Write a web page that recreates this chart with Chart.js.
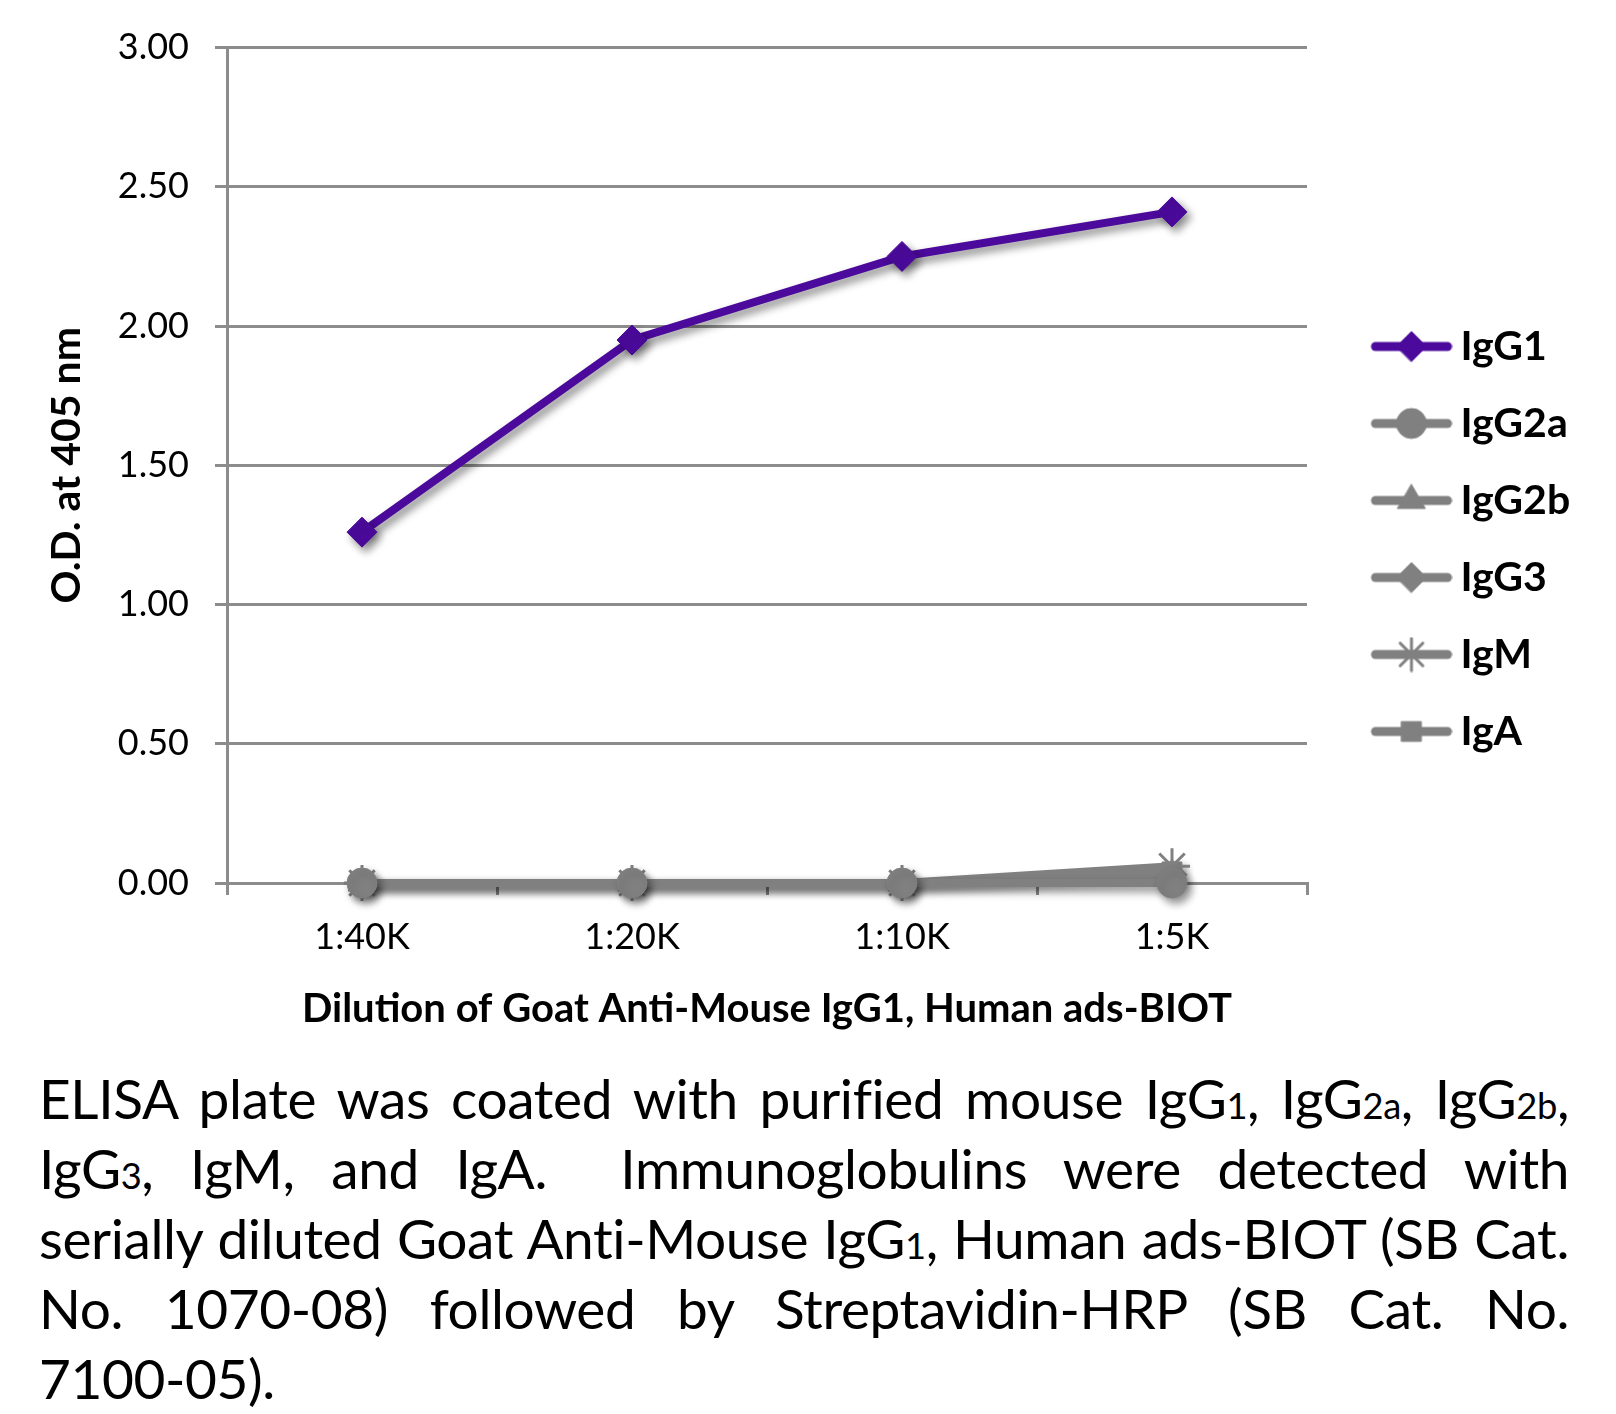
<!DOCTYPE html>
<html>
<head>
<meta charset="utf-8">
<script src="https://cdn.jsdelivr.net/npm/chart.js@4.4.0/dist/chart.umd.min.js"></script>
<style>
  html, body { margin: 0; padding: 0; background: #fff; }
  #wrap { position: absolute; left: 0; top: 0; width: 1616px; height: 1040px; }
  #caption {
    position: absolute; left: 39px; top: 1063px; width: 1530px;
    font-family: Lato, sans-serif; font-size: 55px; line-height: 70px; color: #000;
    letter-spacing: -0.4px;
  }
  #caption .ln { height: 70px; text-align: justify; text-align-last: justify; white-space: nowrap; }
  #caption .ln.last { text-align-last: left; }
  #caption .s { font-size: 0.66em; line-height: 0; }
</style>
</head>
<body>
<div id="wrap"><canvas id="chart"></canvas></div>
<div id="caption">
  <div class="ln">ELISA plate was coated with purified mouse IgG<span class="s">1</span>, IgG<span class="s">2a</span>, IgG<span class="s">2b</span>,</div>
  <div class="ln">IgG<span class="s">3</span>, IgM, and IgA.&nbsp; Immunoglobulins were detected with</div>
  <div class="ln">serially diluted Goat Anti-Mouse IgG<span class="s">1</span>, Human ads-BIOT (SB Cat.</div>
  <div class="ln">No. 1070-08) followed by Streptavidin-HRP (SB Cat. No.</div>
  <div class="ln last">7100-05).</div>
</div>
<script>
const categories = ["1:40K", "1:20K", "1:10K", "1:5K"];
const seriesNames = ["IgG1", "IgG2a", "IgG2b", "IgG3", "IgM", "IgA"];
const igg1 = [1.26, 1.95, 2.25, 2.41];
const igg2a = [0.00, 0.00, 0.00, 0.00];
const igg2b = [0.00, 0.00, 0.00, 0.02];
const igg3 = [0.00, 0.00, 0.00, 0.03];
const igm = [0.00, 0.00, 0.00, 0.06];
const iga = [0.00, 0.00, 0.00, 0.04];
const yTicks = [0, 0.5, 1, 1.5, 2, 2.5, 3];

const purple = "#4B0A9B";
const gray = "#808080";
const axisGray = "#8C8C8C";
const font = "Lato, sans-serif";

const styles = [
    { color: purple, point: "rectRot", radius: 15, order: -2, shadow: true },
    { color: gray, point: "circle", radius: 15, order: -1, shadow: true },
    { color: gray, point: "triangle", radius: 16, order: 0, shadow: false },
    { color: gray, point: "rectRot", radius: 15, order: 0, shadow: false },
    { color: gray, point: "star", radius: 18, order: 0, shadow: false },
    { color: gray, point: "rect", radius: 14, order: 0, shadow: true },
];
const values = [igg1, igg2a, igg2b, igg3, igm, iga];

// legend icon: line with the marker on it
function legendIcon(st) {
    const c = document.createElement("canvas");
    c.width = 122;
    c.height = 36;
    const ctx = c.getContext("2d");
    ctx.strokeStyle = st.color;
    ctx.fillStyle = st.color;
    ctx.lineWidth = 9;
    ctx.lineCap = "round";
    ctx.beginPath();
    ctx.moveTo(45, 18);
    ctx.lineTo(117, 18);
    ctx.stroke();
    ctx.lineWidth = st.point === "star" ? 3 : 1;
    const r = st.point === "star" ? 16 : st.radius;
    Chart.helpers.drawPoint(ctx, { pointStyle: st.point, radius: r, borderWidth: ctx.lineWidth }, 81, 18);
    return c;
}

const shadow = {
    id: "shadow",
    beforeDatasetDraw(chart, args) {
        const ctx = chart.ctx;
        ctx.save();
        if (!styles[args.index].shadow) return;
        ctx.shadowColor = "rgba(0,0,0,0.45)";
        ctx.shadowBlur = 8;
        ctx.shadowOffsetX = 4;
        ctx.shadowOffsetY = 5;
    },
    afterDatasetDraw(chart) {
        chart.ctx.restore();
    }
};

const datasets = seriesNames.map((name, i) => ({
    label: name,
    data: values[i],
    borderColor: styles[i].color,
    backgroundColor: styles[i].color,
    borderWidth: 8,
    pointStyle: styles[i].point,
    pointRadius: styles[i].radius,
    pointBorderWidth: styles[i].point === "star" ? 3 : 1,
    pointBorderColor: styles[i].color,
    pointBackgroundColor: styles[i].color,
    order: styles[i].order,
    clip: false,
    tension: 0,
}));

const chart = new Chart(document.getElementById("chart"), {
    type: "line",
    plugins: [shadow],
    data: { labels: categories, datasets: datasets },
    options: {
        responsive: true,
        maintainAspectRatio: false,
        animation: false,
        layout: { padding: { top: 46, left: 0, right: 49, bottom: 8 } },
        plugins: {
            tooltip: { enabled: false },
            legend: {
                position: "right",
                labels: {
                    usePointStyle: true,
                    pointStyleWidth: 97,
                    padding: 36,
                    color: "#000",
                    font: { family: font, size: 41, weight: "bold" },
                    sort: (a, b) => a.datasetIndex - b.datasetIndex,
                    generateLabels: (ch) => Chart.defaults.plugins.legend.labels.generateLabels(ch).map((l) => {
                        l.pointStyle = legendIcon(styles[l.datasetIndex]);
                        return l;
                    }),
                },
            },
        },
        scales: {
            x: {
                type: "category",
                offset: true,
                afterFit: (s) => { s.height = 149; },
                grid: { offset: true, drawOnChartArea: false, drawTicks: true, tickLength: 12, color: axisGray, lineWidth: 3 },
                border: { display: true, color: axisGray, width: 3 },
                ticks: { color: "#000", padding: 21, font: { family: font, size: 36 } },
                title: {
                    display: true,
                    text: "Dilution of Goat Anti-Mouse IgG1, Human ads-BIOT",
                    color: "#000",
                    padding: { top: 0, bottom: 3 },
                    font: { family: font, size: 40, weight: "bold", lineHeight: 1.0 },
                },
            },
            y: {
                min: 0,
                max: 3,
                afterFit: (s) => { s.width = 227; },
                afterBuildTicks: (s) => { s.ticks = yTicks.map((v) => ({ value: v })); },
                grid: { color: axisGray, lineWidth: 3, tickLength: 12 },
                border: { display: true, color: axisGray, width: 3 },
                ticks: { color: "#000", padding: 26, font: { family: font, size: 36 }, callback: (v) => Number(v).toFixed(2) },
                title: {
                    display: true,
                    text: "O.D. at 405 nm",
                    color: "#000",
                    padding: { top: 42, bottom: 0 },
                    font: { family: font, size: 41, weight: "bold", lineHeight: 1.2 },
                },
            },
        },
    },
});

// put the plot's right edge where the reference has it
const dx = chart.chartArea.right - 1307;
chart.options.layout.padding.right += dx;
chart.update();
</script>
</body>
</html>
